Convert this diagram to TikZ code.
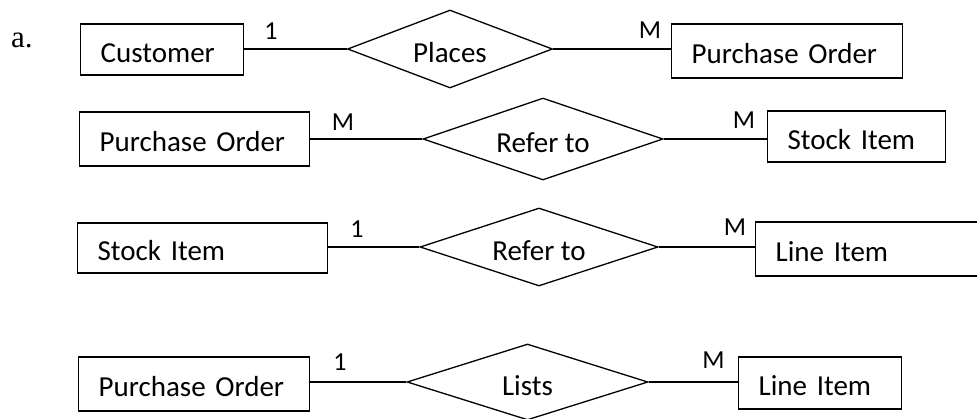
\documentclass[tikz,border=0pt]{standalone}
\usepackage{fontspec}
\setmainfont{Carlito}
\newfontfamily\letterfont{Liberation Serif}
\usetikzlibrary{shapes.geometric}
\begin{document}
\begin{tikzpicture}[x=1pt,y=-1pt,
  entity/.style={draw, line width=1.3pt, anchor=west, inner xsep=20pt, inner ysep=0pt,
    align=left, text height=25.5pt, text depth=0pt, font=\fontsize{29}{34}\selectfont},
  relation/.style={draw, shape=diamond, aspect=3, line width=1.3pt, inner sep=0pt,
    text height=27.5pt, text depth=0pt, font=\fontsize{29}{34}\selectfont},
  card/.style={anchor=base, inner sep=0pt, font=\fontsize{26}{30}\selectfont},
  link/.style={line width=1.3pt}]
\useasboundingbox (0,0) rectangle (977,418);

% item letter
\node[anchor=base west, inner sep=0pt, font=\letterfont\fontsize{31}{36}\selectfont] (item) at (11,47) {a.};

% Customer -- Places -- Purchase Order
\node[entity, text width=123pt, minimum height=51pt] (cust) at (80,49.5) {Customer};
\node[relation, minimum width=205pt, minimum height=78pt] (places) at (450,49) {Places};
\node[entity, text width=191pt, minimum height=54pt] (po1) at (671,51) {Purchase Order};
\draw[link] (places.west) -- (places.west -| cust.east);
\draw[link] (places.east) -- (places.east -| po1.west);
\node[card] (c1l) at (271,39) {1};
\node[card] (c1r) at (650,38) {M};

% Purchase Order -- Refer to -- Stock Item
\node[entity, text width=190pt, minimum height=54pt] (po2) at (79,139) {Purchase Order};
\node[relation, minimum width=240pt, minimum height=82pt] (refer2) at (543,139) {Refer to};
\node[entity, text width=138pt, minimum height=51pt] (si2) at (767,136.5) {Stock Item};
\draw[link] (refer2.west) -- (refer2.west -| po2.east);
\draw[link] (refer2.east) -- (refer2.east -| si2.west);
\node[card] (c2l) at (343,130) {M};
\node[card] (c2r) at (744,128) {M};

% Stock Item -- Refer to -- Line Item
\node[entity, text width=210pt, minimum height=50pt] (si3) at (77,248) {Stock Item};
\node[relation, minimum width=238pt, minimum height=78pt] (refer3) at (539,247) {Refer to};
\node[entity, text width=232pt, minimum height=54pt] (li3) at (755,249) {Line Item};
\draw[link] (refer3.west) -- (refer3.west -| si3.east);
\draw[link] (refer3.east) -- (refer3.east -| li3.west);
\node[card] (c3l) at (357,237) {1};
\node[card] (c3r) at (735,235) {M};

% Purchase Order -- Lists -- Line Item
\node[entity, text width=191pt, minimum height=54pt] (po4) at (78,384) {Purchase Order};
\node[relation, minimum width=241pt, minimum height=76pt] (lists) at (527.5,382) {Lists};
\node[entity, text width=123pt, minimum height=52pt] (li4) at (738,383) {Line Item};
\draw[link] (lists.west) -- (lists.west -| po4.east);
\draw[link] (lists.east) -- (lists.east -| li4.west);
\node[card] (c4l) at (340,370) {1};
\node[card] (c4r) at (713.5,368) {M};
\end{tikzpicture}
\end{document}
